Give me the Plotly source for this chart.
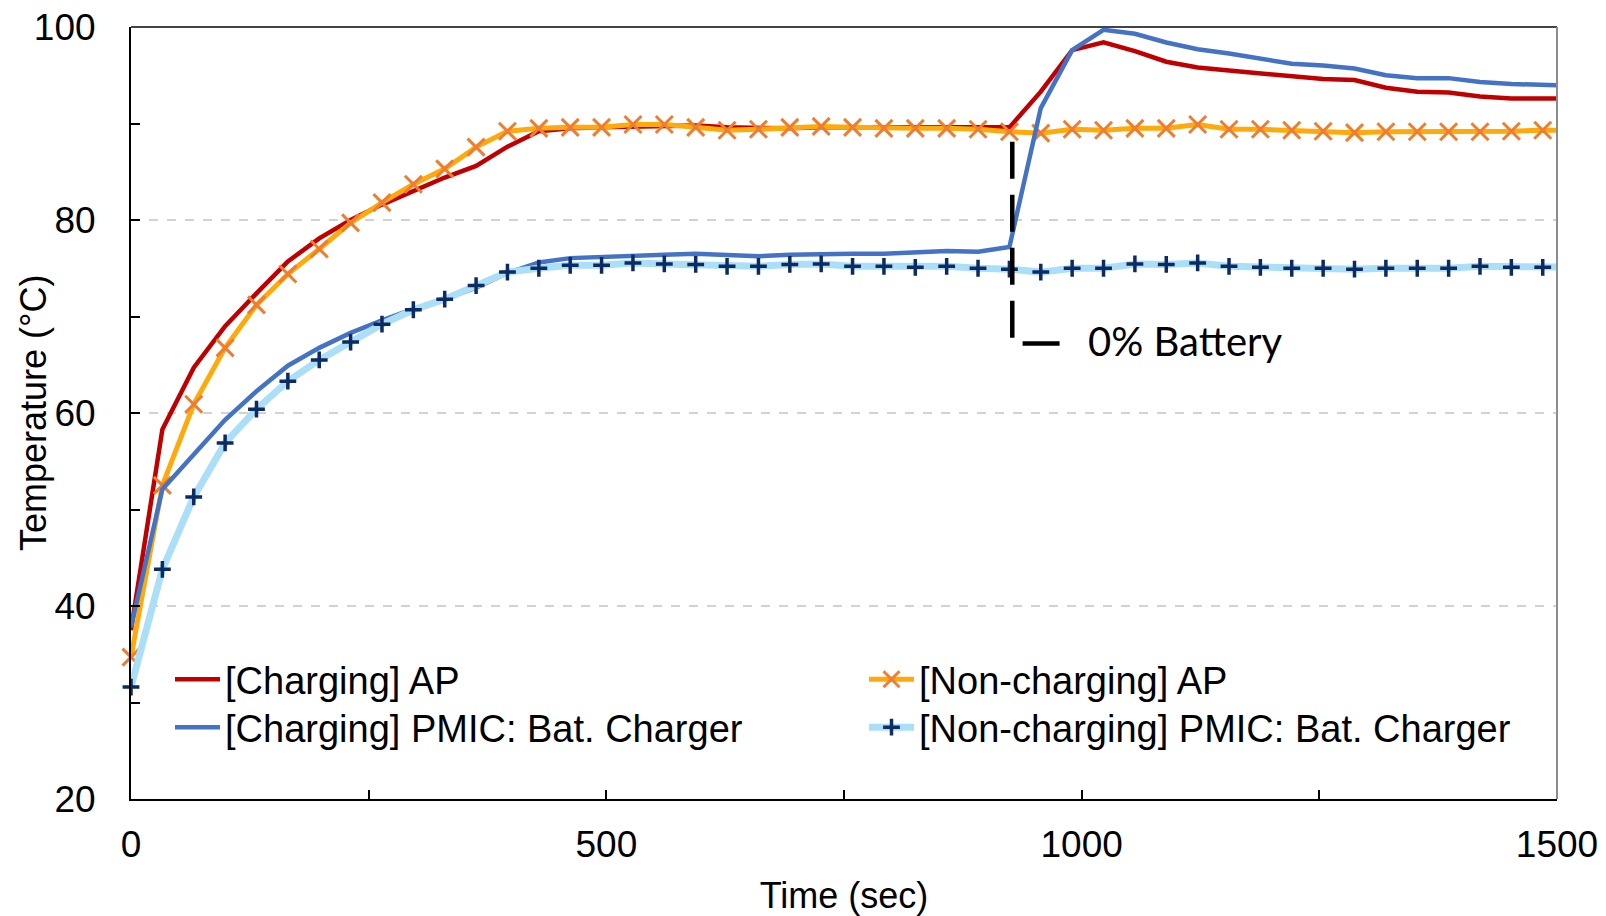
import plotly.graph_objects as go

# Sampling times (s) and measured temperatures (degC)
time_s = [0, 33, 66, 99, 132, 165, 198, 231, 264, 297, 330, 363, 396, 429, 462, 495,
          528, 561, 594, 627, 660, 693, 726, 759, 792, 825, 858, 891, 924, 957, 990,
          1023, 1056, 1089, 1122, 1155, 1188, 1221, 1254, 1287, 1320, 1353, 1386,
          1419, 1452, 1485, 1518]

charging_ap = [37.5, 58.3, 64.7, 69.0, 72.4, 75.7, 78.1, 80.0, 81.6, 83.0, 84.4, 85.6,
               87.6, 89.2, 89.5, 89.6, 89.7, 89.8, 89.8, 89.6, 89.5, 89.5, 89.6, 89.6,
               89.6, 89.7, 89.7, 89.6, 89.6, 93.3, 97.6, 98.4, 97.5, 96.4, 95.8, 95.5,
               95.2, 94.9, 94.6, 94.5, 93.7, 93.3, 93.2, 92.8, 92.6, 92.6, 92.6]

charging_pmic = [37.8, 52.1, 55.7, 59.3, 62.25, 64.9, 66.75, 68.3, 69.6, 70.8, 71.8, 73.0,
                 74.5, 75.6, 76.05, 76.2, 76.25, 76.4, 76.5, 76.4, 76.25, 76.4, 76.5, 76.5,
                 76.5, 76.6, 76.8, 76.7, 77.2, 91.6, 97.6, 99.7, 99.3, 98.4, 97.7, 97.25,
                 96.7, 96.2, 96.0, 95.7, 95.0, 94.7, 94.7, 94.3, 94.1, 94.0, 93.9]

noncharging_ap = [34.7, 52.5, 60.9, 66.75, 71.2, 74.4, 77.0, 79.7, 81.8, 83.7, 85.3, 87.55,
                  89.2, 89.5, 89.6, 89.6, 89.9, 89.9, 89.6, 89.3, 89.4, 89.6, 89.7, 89.6,
                  89.5, 89.5, 89.5, 89.4, 89.15, 89.0, 89.4, 89.3, 89.5, 89.5, 89.9, 89.4,
                  89.4, 89.3, 89.2, 89.05, 89.15, 89.15, 89.15, 89.15, 89.2, 89.3, 89.3]

noncharging_pmic = [31.6, 43.8, 51.3, 56.9, 60.4, 63.3, 65.5, 67.35, 69.2, 70.7, 71.8, 73.2,
                    74.6, 75.0, 75.3, 75.3, 75.55, 75.45, 75.4, 75.2, 75.2, 75.4, 75.45, 75.2,
                    75.2, 75.1, 75.2, 75.0, 74.9, 74.6, 75.0, 75.0, 75.45, 75.4, 75.55, 75.2,
                    75.1, 75.0, 75.0, 74.9, 75.0, 75.0, 75.0, 75.2, 75.1, 75.1, 75.1]

series_names = ["[Charging] AP", "[Non-charging] AP",
                "[Charging] PMIC: Bat. Charger", "[Non-charging] PMIC: Bat. Charger"]

# Battery-empty event marker
event_time = 927
event_top, event_corner = 88.1, 67.2
event_end_time = 977
event_label = "0% Battery"
event_label_time, event_label_y = 1005, 67.5

X_MIN, X_MAX = 0, 1500
Y_MIN, Y_MAX = 20, 100

FONT = "Liberation Sans, Arial, sans-serif"

# plot-area geometry in pixels
W, H = 1606, 916
L, R, T, B = 131, 49, 27, 117
PW, PH = W - L - R, H - T - B


def px_x(p):
    return (p - L) / PW


def px_y(p):
    return (H - B - p) / PH


# markers past the visible time range stay hidden (their line still runs to the edge)
mark_visible = [1 if t <= X_MAX else 0 for t in time_s]

fig = go.Figure()

fig.add_trace(go.Scatter(
    x=time_s, y=charging_ap, name=series_names[0], mode="lines",
    line=dict(color="#C00000", width=4.5), legend="legend", showlegend=True))

fig.add_trace(go.Scatter(
    x=time_s, y=noncharging_ap, name=series_names[1], mode="lines+markers",
    line=dict(color="#FFA90A", width=5),
    marker=dict(symbol="x-thin", size=17, opacity=mark_visible,
                line=dict(color="#EE7D31", width=3)),
    cliponaxis=False, legend="legend3", showlegend=True))

fig.add_trace(go.Scatter(
    x=time_s, y=charging_pmic, name=series_names[2], mode="lines",
    line=dict(color="#4472C4", width=4.5), legend="legend2", showlegend=True))

fig.add_trace(go.Scatter(
    x=time_s, y=noncharging_pmic, name=series_names[3], mode="lines+markers",
    line=dict(color="#ABDFF8", width=7),
    marker=dict(symbol="cross-thin", size=12, opacity=mark_visible,
                line=dict(color="#0D2B63", width=3.5)),
    cliponaxis=False, legend="legend4", showlegend=True))

# dashed L-shaped pointer for the battery event
fig.add_shape(
    type="path",
    path=f"M {event_time},{event_top} L {event_time},{event_corner} L {event_end_time},{event_corner}",
    xref="x", yref="y",
    line=dict(color="black", width=4.5, dash="37px,16px"),
    layer="above")

fig.add_annotation(
    x=event_label_time, y=event_label_y, xref="x", yref="y",
    text=event_label, showarrow=False, xanchor="left", yanchor="middle",
    font=dict(family="Lato, sans-serif", size=40, color="black"))

# y-axis title
fig.add_annotation(
    x=px_x(33), y=0.5, xref="paper", yref="paper", text="Temperature (°C)",
    textangle=-90, showarrow=False, xanchor="center", yanchor="middle",
    font=dict(family=FONT, size=36, color="black"))

# top and right frame lines
fig.add_shape(type="line", xref="paper", yref="paper", x0=0, x1=1, y0=1, y1=1,
              line=dict(color="#444444", width=2), layer="above")
fig.add_shape(type="line", xref="paper", yref="paper", x0=1, x1=1, y0=0, y1=1,
              line=dict(color="#8C8C8C", width=2), layer="above")

legend_common = dict(font=dict(family=FONT, size=38, color="black"),
                      bgcolor="rgba(0,0,0,0)", borderwidth=0,
                      xanchor="left", yanchor="top", itemwidth=45)

fig.update_layout(
    width=W, height=H,
    margin=dict(l=L, r=R, t=T, b=B, autoexpand=False),
    paper_bgcolor="white", plot_bgcolor="white",
    font=dict(family=FONT, color="black"),
    showlegend=True,
    legend=dict(x=px_x(170), y=px_y(648), **legend_common),
    legend2=dict(x=px_x(170), y=px_y(696), **legend_common),
    legend3=dict(x=px_x(864), y=px_y(648), **legend_common),
    legend4=dict(x=px_x(864), y=px_y(696), **legend_common),
    xaxis=dict(
        range=[X_MIN, X_MAX], tick0=0, dtick=500,
        ticks="inside", ticklen=9, tickwidth=2, tickcolor="black",
        showline=True, linecolor="black", linewidth=2,
        showgrid=False, zeroline=False,
        tickfont=dict(family=FONT, size=37, color="black"),
        ticklabelstandoff=12,
        minor=dict(dtick=250, ticks="inside", ticklen=9, tickwidth=2,
                   tickcolor="black", showgrid=False),
        title=dict(text="Time (sec)", standoff=18,
                   font=dict(family=FONT, size=36, color="black")),
    ),
    yaxis=dict(
        range=[Y_MIN, Y_MAX], tick0=20, dtick=20,
        ticks="inside", ticklen=9, tickwidth=2, tickcolor="black",
        showline=True, linecolor="black", linewidth=2,
        showgrid=True, gridcolor="#D2D2D2", gridwidth=1.5, griddash="dash",
        zeroline=False,
        tickfont=dict(family=FONT, size=37, color="black"),
        ticklabelstandoff=26,
        minor=dict(dtick=10, ticks="inside", ticklen=9, tickwidth=2,
                   tickcolor="black", showgrid=False),
    ),
)

fig.write_html("out.html")
